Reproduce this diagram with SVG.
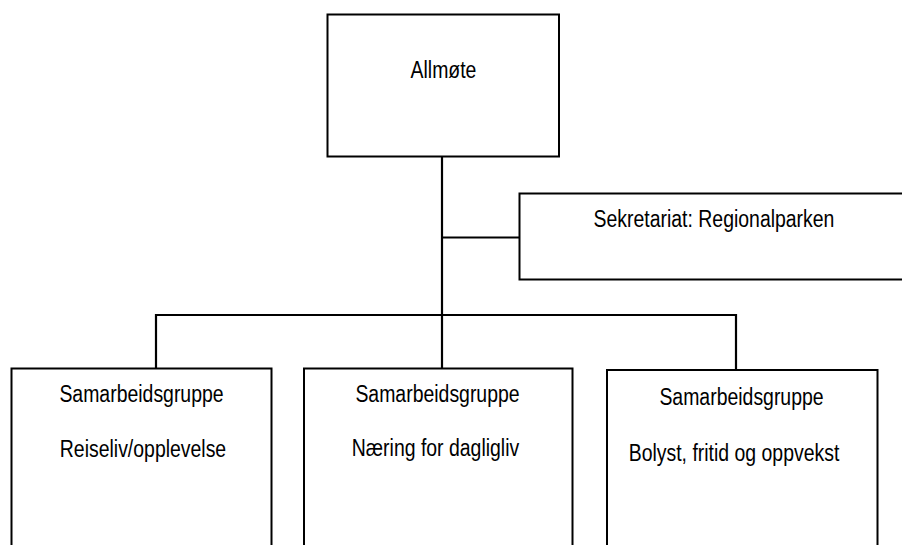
<svg xmlns="http://www.w3.org/2000/svg" width="902" height="545" viewBox="0 0 902 545">
  <style>
    .box { fill: #ffffff; stroke: #000000; stroke-width: 2; }
    .conn { fill: none; stroke: #000000; stroke-width: 2.2; }
    text { font-family: "Liberation Sans", Arial, sans-serif; font-size: 24px; fill: #000000; text-anchor: middle; }
  </style>
  <rect width="902" height="545" fill="#ffffff"/>
  <g id="connectors">
    <line class="conn" x1="442" y1="156.5" x2="442" y2="368.5"/>
    <line class="conn" x1="442" y1="237.5" x2="519.5" y2="237.5"/>
    <polyline class="conn" points="156,368.5 156,315 736,315 736,370"/>
  </g>
  <g id="allmote">
    <rect class="box" x="327.5" y="14.5" width="231.5" height="142"/>
    <text transform="translate(443.5 77.5) scale(0.81 1)">Allmøte</text>
  </g>
  <g id="sekretariat">
    <rect class="box" x="519.5" y="193.5" width="400" height="86"/>
    <text transform="translate(714 227) scale(0.81 1)">Sekretariat: Regionalparken</text>
  </g>
  <g id="gruppe-reiseliv">
    <rect class="box" x="11.5" y="368.5" width="260" height="200"/>
    <text transform="translate(141.5 401.5) scale(0.81 1)">Samarbeidsgruppe</text>
    <text transform="translate(143 457) scale(0.81 1)">Reiseliv/opplevelse</text>
  </g>
  <g id="gruppe-naering">
    <rect class="box" x="304" y="368.5" width="268.5" height="200"/>
    <text transform="translate(437.5 401.5) scale(0.81 1)">Samarbeidsgruppe</text>
    <text transform="translate(435.5 456) scale(0.81 1)">Næring for dagligliv</text>
  </g>
  <g id="gruppe-bolyst">
    <rect class="box" x="607" y="370" width="270.5" height="200"/>
    <text transform="translate(741.5 404.5) scale(0.81 1)">Samarbeidsgruppe</text>
    <text transform="translate(734 461) scale(0.81 1)">Bolyst, fritid og oppvekst</text>
  </g>
</svg>
